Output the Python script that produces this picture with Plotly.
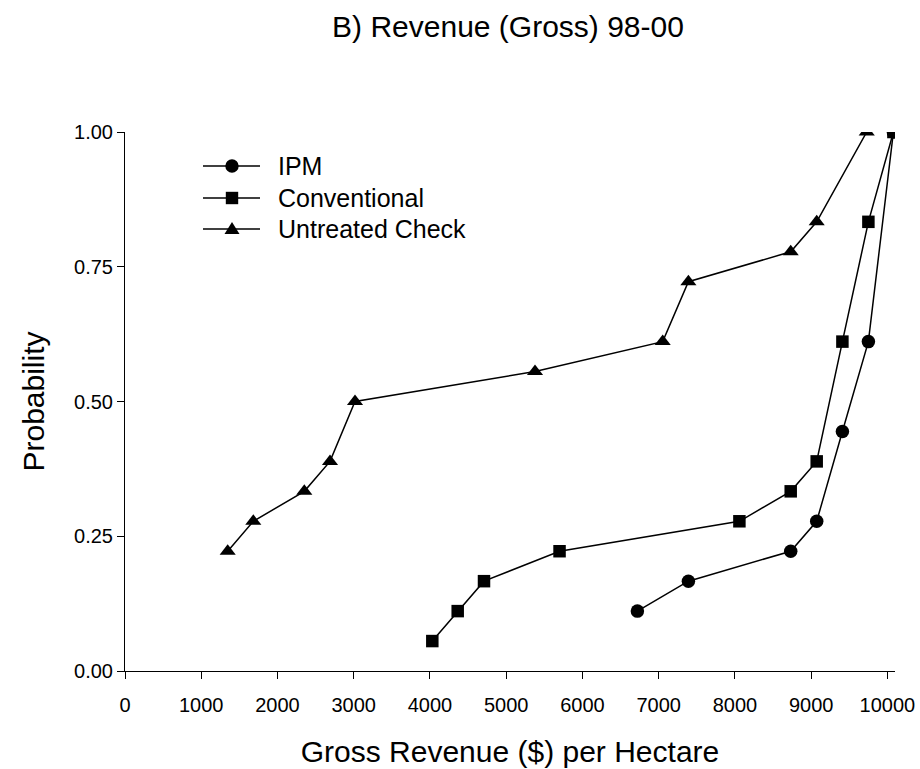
import plotly.graph_objects as go

# Data (probability = k/18)
ipm_x = [6721, 7390, 8732, 9073, 9410, 9751, 10079]
ipm_y = [2/18, 3/18, 4/18, 5/18, 8/18, 11/18, 18/18]

conv_x = [4031, 4364, 4709, 5700, 8059, 8732, 9073, 9410, 9751, 10079]
conv_y = [1/18, 2/18, 3/18, 4/18, 5/18, 6/18, 7/18, 11/18, 15/18, 18/18]

unt_x = [1347, 1683, 2352, 2689, 3017, 5378, 7053, 7390, 8732, 9073, 9729]
unt_y = [4/18, 5/18, 6/18, 7/18, 9/18, 10/18, 11/18, 13/18, 14/18, 15/18, 18/18]

series_names = ["IPM", "Conventional", "Untreated Check"]
x_ticks = [0, 1000, 2000, 3000, 4000, 5000, 6000, 7000, 8000, 9000, 10000]
y_ticks = [0.0, 0.25, 0.5, 0.75, 1.0]

FONT = "Arial, Liberation Sans, sans-serif"
W, H = 920, 769
ML, MR, MT, MB = 125, 25, 132, 98
PW, PH = W - ML - MR, H - MT - MB

symbols = ["circle", "square", "triangle-up"]
sizes = [13.5, 12.5, 14]

fig = go.Figure()
for name, xs, ys, sym, sz in zip(series_names, [ipm_x, conv_x, unt_x], [ipm_y, conv_y, unt_y],
                                 symbols, sizes):
    fig.add_trace(go.Scatter(x=xs, y=ys, mode="lines+markers", name=name, showlegend=False,
                             line=dict(color="black", width=1.5),
                             marker=dict(symbol=sym, size=sz, color="black")))

# ---- custom legend (layout only) ----
def px(xp):
    return (xp - ML) / PW

def py(yp):
    return (H - MB - yp) / PH

shapes = []
annotations = []
leg_rows = [166, 198, 229]
lx0, lx1, lmx, ltx = 203, 260, 232, 276
for name, sym, row in zip(series_names, symbols, leg_rows):
    shapes.append(dict(type="line", xref="paper", yref="paper",
                       x0=px(lx0), x1=px(lx1), y0=py(row), y1=py(row),
                       line=dict(color="black", width=1.5)))
    if sym == "circle":
        r = 6.7
        shapes.append(dict(type="circle", xref="paper", yref="paper",
                           x0=px(lmx - r), x1=px(lmx + r), y0=py(row + r), y1=py(row - r),
                           fillcolor="black", line=dict(width=0)))
    elif sym == "square":
        r = 6.2
        shapes.append(dict(type="rect", xref="paper", yref="paper",
                           x0=px(lmx - r), x1=px(lmx + r), y0=py(row + r), y1=py(row - r),
                           fillcolor="black", line=dict(width=0)))
    else:
        path = "M{:.5f},{:.5f} L{:.5f},{:.5f} L{:.5f},{:.5f} Z".format(
            px(lmx - 7.5), py(row + 5), px(lmx + 7.5), py(row + 5), px(lmx), py(row - 7))
        shapes.append(dict(type="path", xref="paper", yref="paper", path=path,
                           fillcolor="black", line=dict(width=0)))
    annotations.append(dict(text=name, xref="paper", yref="paper", x=px(ltx), y=py(row),
                            xanchor="left", yanchor="middle", showarrow=False,
                            font=dict(size=25, color="black", family=FONT)))

fig.update_layout(
    width=W, height=H,
    margin=dict(l=ML, r=MR, t=MT, b=MB),
    paper_bgcolor="white", plot_bgcolor="white",
    font=dict(family=FONT, color="black"),
    title=dict(text="B) Revenue (Gross) 98-00", x=508 / W, xanchor="center",
               y=1 - 26 / H, yanchor="middle", font=dict(size=30, color="black")),
    showlegend=False,
    shapes=shapes,
    annotations=annotations,
    xaxis=dict(range=[0, 10100], tickvals=x_ticks, ticktext=[str(v) for v in x_ticks],
               showline=True, linecolor="black", linewidth=1,
               ticks="outside", ticklen=7, tickcolor="black", tickwidth=1,
               showgrid=False, zeroline=False, ticklabelstandoff=9, automargin=False,
               tickfont=dict(size=20, color="black"),
               title=dict(text="Gross Revenue ($) per Hectare", font=dict(size=30, color="black"),
                          standoff=25)),
    yaxis=dict(range=[0, 1], tickvals=y_ticks, tickformat=".2f",
               showline=True, linecolor="black", linewidth=1,
               ticks="outside", ticklen=7, tickcolor="black", tickwidth=1,
               showgrid=False, zeroline=False, automargin=False,
               tickfont=dict(size=20, color="black"),
               title=dict(text="Probability", font=dict(size=30, color="black"), standoff=20)),
)

fig.write_html("out.html")
